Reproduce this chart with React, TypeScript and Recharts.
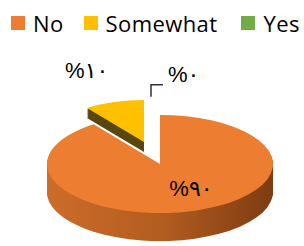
import React from 'react';
import { PieChart, Pie, Cell, Legend } from 'recharts';

const CATEGORIES = ['No', 'Somewhat', 'Yes'];
const VALUES = [90, 10, 0];
const LABELS = ['%٩٠', '%١٠', '%٠'];
const COLORS = ['#ED7D31', '#FFC000', '#70AD47'];
const SIDE_COLORS = ['url(#sideOrange)', '#5A4710', '#4E7A30'];

const data = CATEGORIES.map((name, i) => ({ name, value: VALUES[i] }));

const W = 304;
const H = 246;
const K = 0.434; // vertical squash for the 3D tilt
const CX = 160;
const CY = 164;
const R = 113;
const DEPTH = 28;
const EX_CX = 144;
const EX_CY = 142;
const EX_R = 97;
const EX_DEPTH = 10;
const EXPLODED = 1;

const depthLayers = (depth: number, step: number) => {
  const out: number[] = [];
  for (let d = depth; d > 0; d -= step) out.push(d);
  return out;
};

const RAD = Math.PI / 180;
const LABEL_FONT = { fontFamily: '"Liberation Sans", "DejaVu Sans", sans-serif', fontSize: 22, fill: '#000' };

const renderLabel = (p: any) => {
  const { cx, cy, midAngle, index } = p;
  const sy = cy * K;
  const ry = R * K;
  const c = Math.cos(midAngle * RAD);
  const s = Math.sin(midAngle * RAD);
  if (index === 0) {
    return (
      <text x={cx + R * c * 0.6 + 10} y={sy - ry * s * 0.6 + 4} textAnchor="middle" {...LABEL_FONT}>
        {LABELS[index]}
      </text>
    );
  }
  if (index === 1) {
    return (
      <text x={cx + R * c * 2.1} y={sy - ry * s * 1.85} textAnchor="middle" {...LABEL_FONT}>
        {LABELS[index]}
      </text>
    );
  }
  const x0 = cx + R * c - 9;
  const yStart = sy - ry * s * 1.37;
  const yElbow = sy - ry * s * 1.617;
  return (
    <g>
      <polyline points={`${x0},${yStart} ${x0},${yElbow} ${x0 + 12},${yElbow}`} fill="none" stroke="#333" strokeWidth={1.5} />
      <text x={x0 + 17} y={yElbow - 3} textAnchor="start" {...LABEL_FONT}>
        {LABELS[index]}
      </text>
    </g>
  );
};

const LEGEND_GAPS = [20, 24, 0];

const LegendContent = () => (
  <div
    style={{
      display: 'flex',
      alignItems: 'center',
      paddingLeft: 11,
      fontFamily: '"Open Sans", sans-serif',
      fontSize: 22,
      letterSpacing: 0.4,
      lineHeight: '30px',
      color: '#000',
      whiteSpace: 'nowrap',
    }}
  >
    {CATEGORIES.map((c, i) => (
      <div key={c} style={{ display: 'flex', alignItems: 'center', marginRight: LEGEND_GAPS[i] }}>
        <span style={{ display: 'inline-block', width: 14, height: 14, background: COLORS[i], marginRight: 8 }} />
        <span>{c}</span>
      </div>
    ))}
  </div>
);

export default function App() {
  return (
    <div style={{ width: W, height: H }}>
      <style>{`body{margin:0;overflow:hidden}.pie3d .recharts-sector{transform:scaleY(${K});transform-origin:0 0;}`}</style>
      <PieChart width={W} height={H} margin={{ top: 0, right: 0, bottom: 0, left: 0 }}>
        <defs>
          <linearGradient id="sideOrange" x1="0" y1="0" x2="1" y2="0">
            <stop offset="0" stopColor="#CC6C2A" />
            <stop offset="0.5" stopColor="#B35D20" />
            <stop offset="1" stopColor="#7E3C12" />
          </linearGradient>
        </defs>
        <Legend
          verticalAlign="bottom"
          align="left"
          wrapperStyle={{ top: 8, left: 0, bottom: 'auto', width: W }}
          content={() => <LegendContent />}
        />
        {depthLayers(EX_DEPTH, 1).map((d) => (
          <Pie
            key={`ex-${d}`}
            className="pie3d"
            data={data}
            dataKey="value"
            nameKey="name"
            cx={EX_CX}
            cy={(EX_CY + d) / K}
            outerRadius={EX_R}
            startAngle={90}
            endAngle={-270}
            stroke="none"
            legendType="none"
            isAnimationActive={false}
          >
            {data.map((_, i) => (
              <Cell key={i} fill={i === EXPLODED ? SIDE_COLORS[i] : 'none'} />
            ))}
          </Pie>
        ))}
        <Pie
          className="pie3d"
          data={data}
          dataKey="value"
          nameKey="name"
          cx={EX_CX}
          cy={EX_CY / K}
          outerRadius={EX_R}
          startAngle={90}
          endAngle={-270}
          stroke="none"
          legendType="none"
          isAnimationActive={false}
        >
          {data.map((_, i) => (
            <Cell key={i} fill={i === EXPLODED ? COLORS[i] : 'none'} />
          ))}
        </Pie>
        {depthLayers(DEPTH, 1).map((d) => (
          <Pie
            key={`main-${d}`}
            className="pie3d"
            data={data}
            dataKey="value"
            nameKey="name"
            cx={CX}
            cy={(CY + d) / K}
            outerRadius={R}
            startAngle={90}
            endAngle={-270}
            stroke="none"
            legendType="none"
            isAnimationActive={false}
          >
            {data.map((_, i) => (
              <Cell key={i} fill={i === EXPLODED ? 'none' : SIDE_COLORS[i]} />
            ))}
          </Pie>
        ))}
        <Pie
          className="pie3d"
          data={data}
          dataKey="value"
          nameKey="name"
          cx={CX}
          cy={CY / K}
          outerRadius={R}
          startAngle={90}
          endAngle={-270}
          stroke="none"
          legendType="none"
          label={renderLabel}
          labelLine={false}
          isAnimationActive={false}
        >
          {data.map((_, i) => (
            <Cell key={i} fill={i === EXPLODED ? 'none' : COLORS[i]} />
          ))}
        </Pie>
      </PieChart>
    </div>
  );
}
